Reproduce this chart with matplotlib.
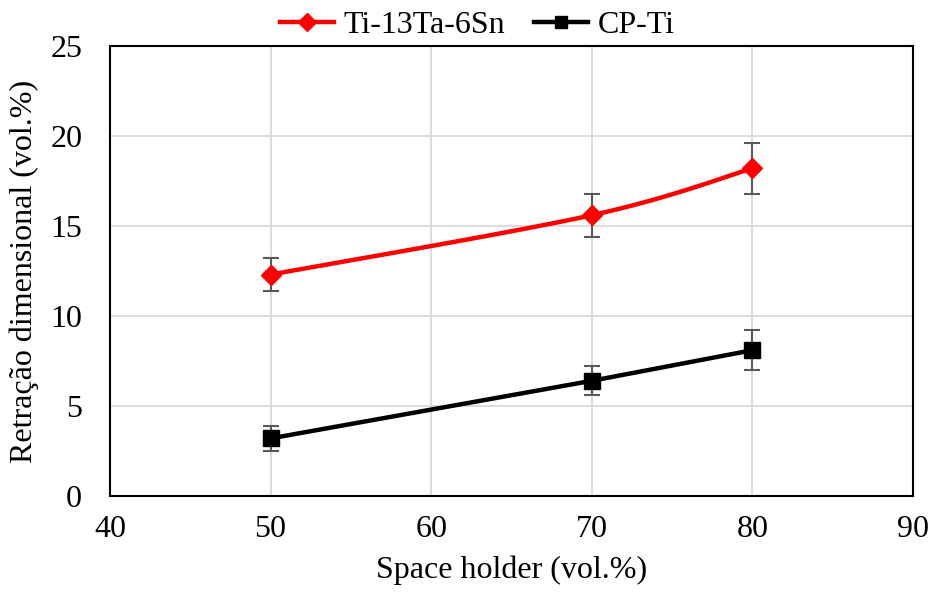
import numpy as np
import matplotlib
matplotlib.use("Agg")
import matplotlib.pyplot as plt

plt.rcParams['font.family'] = ['Liberation Serif', 'DejaVu Serif']

space_holder = [50, 70, 80]
ti13ta6sn = [12.3, 15.6, 18.2]
ti13ta6sn_err = [0.9, 1.2, 1.4]
cp_ti = [3.2, 6.4, 8.1]
cp_ti_err = [0.7, 0.8, 1.1]

x_ticks = [40, 50, 60, 70, 80, 90]
y_ticks = [0, 5, 10, 15, 20, 25]


def smooth_curve(x, y, n=60):
    """Piecewise cubic Bezier through the points (Catmull-Rom style tangents)."""
    x = np.asarray(x, float)
    y = np.asarray(y, float)
    pts = np.column_stack([x, y])
    out = []
    for i in range(len(pts) - 1):
        p0 = pts[i - 1] if i > 0 else pts[i]
        p1 = pts[i]
        p2 = pts[i + 1]
        p3 = pts[i + 2] if i + 2 < len(pts) else pts[i + 1]
        c1 = p1 + (p2 - p0) / 6.0
        c2 = p2 - (p3 - p1) / 6.0
        t = np.linspace(0, 1, n)[:, None]
        seg = ((1 - t) ** 3) * p1 + 3 * ((1 - t) ** 2) * t * c1 + 3 * (1 - t) * t ** 2 * c2 + t ** 3 * p2
        out.append(seg if i == 0 else seg[1:])
    seg = np.vstack(out)
    return seg[:, 0], seg[:, 1]


FS = 23

fig = plt.figure(figsize=(9.3, 5.98), dpi=100)
ax = fig.add_axes([110 / 930, 1 - 496 / 598, 803 / 930, 450 / 598])

ax.set_xlim(40, 90)
ax.set_ylim(0, 25)
ax.set_xticks(x_ticks)
ax.set_yticks(y_ticks)
ax.grid(True, color='#d9d9d9', linewidth=1.3)
ax.set_axisbelow(True)
for s in ax.spines.values():
    s.set_color('black')
    s.set_linewidth(1.5)
ax.tick_params(length=0, labelsize=FS)
ax.tick_params(axis='x', pad=14)
ax.tick_params(axis='y', pad=20)

red = '#ff0000'
sx, sy = smooth_curve(space_holder, ti13ta6sn)
ax.plot(sx, sy, color=red, linewidth=3.2, zorder=3)
ax.errorbar(space_holder, ti13ta6sn, yerr=ti13ta6sn_err, fmt='none', ecolor='#595959',
            elinewidth=1.5, capsize=6, capthick=1.5, zorder=2)
ax.plot(space_holder, ti13ta6sn, linestyle='none', marker='D', markersize=10,
        color=red, zorder=4)

ax.errorbar(space_holder, cp_ti, yerr=cp_ti_err, fmt='none', ecolor='#595959',
            elinewidth=1.5, capsize=6, capthick=1.5, zorder=2)
ax.plot(space_holder, cp_ti, color='black', linewidth=3.2, zorder=3)
ax.plot(space_holder, cp_ti, linestyle='none', marker='s', markersize=11,
        color='black', zorder=4)

h1, = ax.plot([], [], color=red, linewidth=3.2, marker='D', markersize=9)
h2, = ax.plot([], [], color='black', linewidth=3.2, marker='s', markersize=9)
fig.legend([h1, h2], ['Ti-13Ta-6Sn', 'CP-Ti'], loc='upper center',
           bbox_to_anchor=(0.513, 1.03), ncol=2, frameon=False, fontsize=FS,
           handlelength=1.7, columnspacing=0.9, handletextpad=0.3)

ax.set_xlabel('Space holder (vol.%)', fontsize=FS, labelpad=8)
ax.set_ylabel('Retração dimensional (vol.%)', fontsize=FS, labelpad=8)

fig.savefig('out.png', dpi=100)
